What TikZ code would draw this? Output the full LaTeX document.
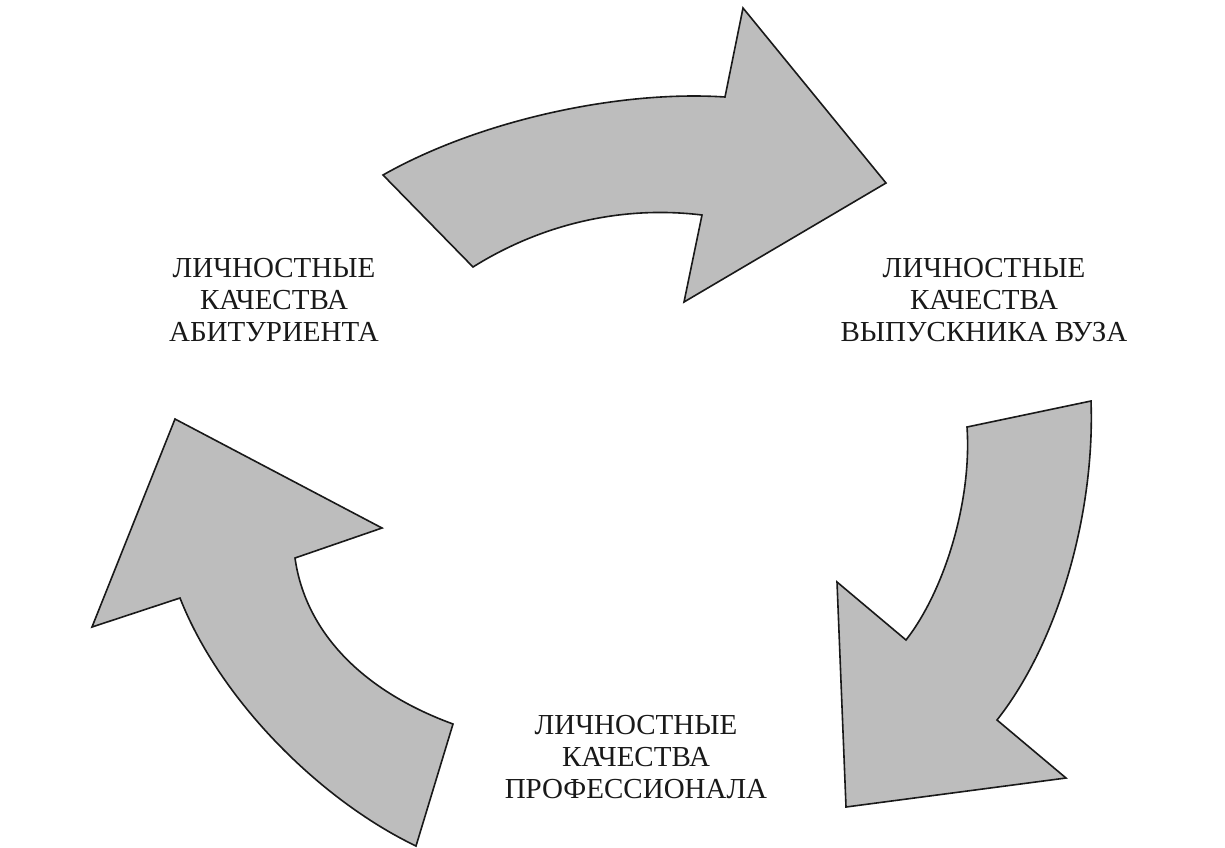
\documentclass[tikz,border=0pt]{standalone}
\usepackage{fontspec}
\setmainfont{Liberation Serif}
\begin{document}
\begin{tikzpicture}[x=1pt,y=-1pt,
  bigarrow/.style={fill=black!26, draw=black!90, line width=1.6pt, line join=miter},
  label/.style={align=center, inner sep=0pt, text=black!90,
    font=\fontsize{29}{32}\selectfont}]
\useasboundingbox[fill=white] (0,0) rectangle (1225,847);
% top arrow
\draw[bigarrow] (383,175) .. controls (480,120) and (620,90) .. (725,97)
  -- (743,8) -- (886,183) -- (684,302) -- (702,215)
  .. controls (620,205) and (540,225) .. (473,267) -- cycle;
% right arrow
\draw[bigarrow] (967,427) -- (1091,401)
  .. controls (1095,510) and (1060,640) .. (997,720)
  -- (1066,778) -- (846,807) -- (837,582) -- (906,640)
  .. controls (945,590) and (972,500) .. cycle;
% left arrow
\draw[bigarrow] (175,419) -- (382,528) -- (295,558)
  .. controls (305,630) and (360,690) .. (453,724)
  -- (416,846) .. controls (320,800) and (220,700) .. (180,598)
  -- (92,627) -- cycle;
\node[label] (abit) at (274,300) {ЛИЧНОСТНЫЕ\\КАЧЕСТВА\\АБИТУРИЕНТА};
\node[label] (vyp) at (984,300) {ЛИЧНОСТНЫЕ\\КАЧЕСТВА\\ВЫПУСКНИКА ВУЗА};
\node[label] (prof) at (636,757) {ЛИЧНОСТНЫЕ\\КАЧЕСТВА\\ПРОФЕССИОНАЛА};
\end{tikzpicture}
\end{document}
